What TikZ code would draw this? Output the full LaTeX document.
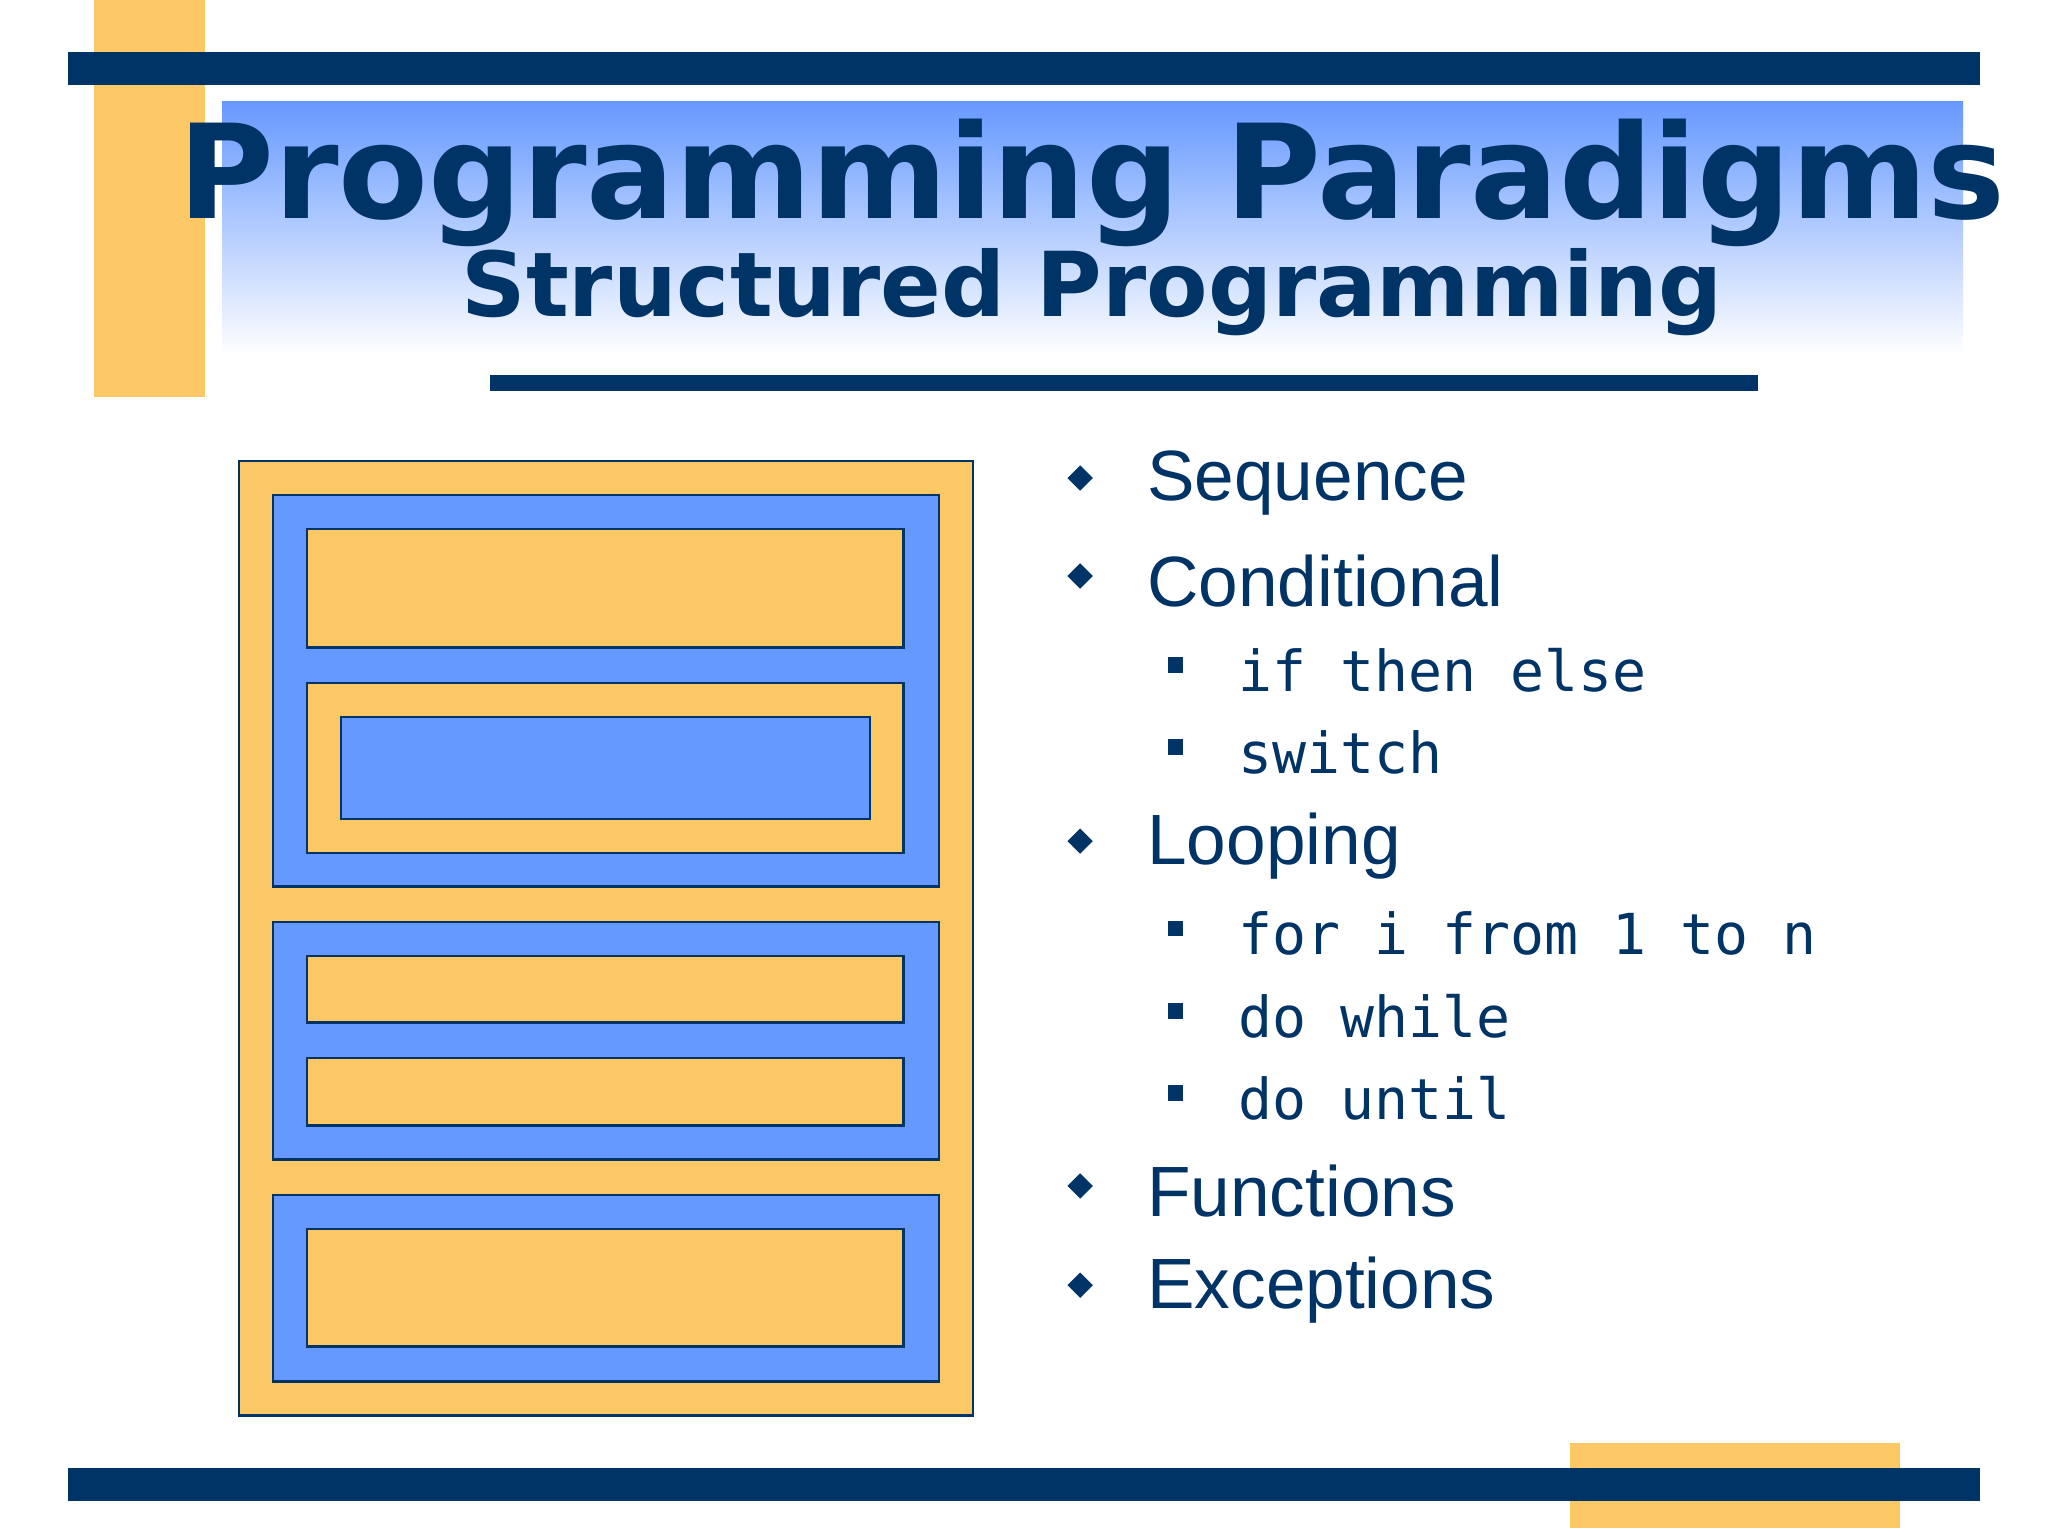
\documentclass[tikz,border=0pt]{standalone}
\usetikzlibrary{shapes.geometric}
\usepackage{fontspec}
\setmainfont{Liberation Sans}
\newfontfamily\titlefont{DejaVu Sans}
\newfontfamily\codefont{DejaVu Sans Mono}
\definecolor{navy}{HTML}{003366}
\definecolor{gold}{HTML}{FCC865}
\definecolor{sky}{HTML}{6699FF}
\begin{document}
\begin{tikzpicture}[x=0.01cm,y=-0.01cm,
  yb/.style={fill=gold,draw=navy,line width=0.6pt},
  bb/.style={fill=sky,draw=navy,line width=0.6pt},
  item/.style={anchor=west,text=navy,font=\fontsize{15.5}{18}\selectfont},
  code/.style={anchor=west,text=navy,font=\codefont\fontsize{12.3}{15}\selectfont},
  dia/.style={diamond,fill=navy,inner sep=0pt,minimum size=0.2cm},
  sq/.style={rectangle,fill=navy,inner sep=0pt,minimum size=0.12cm}]
\useasboundingbox[fill=white] (0,0) rectangle (1568,1176);
\fill[gold] (72,0) rectangle (157,304);
\fill[navy] (52,40) rectangle (1516,65);
\shade[top color=sky,bottom color=white] (170,78) rectangle (1503,272);
\node[text=navy,font=\titlefont\bfseries\fontsize{28.5}{30}\selectfont] (t) at (836,140) {Programming Paradigms};
\node[text=navy,font=\titlefont\bfseries\fontsize{19.5}{22}\selectfont] (st) at (836,224) {Structured Programming};
\fill[navy] (375,287) rectangle (1346,299);
\draw[yb] (183,353) rectangle (745,1084);
\draw[bb] (209,379) rectangle (719,679);
\draw[yb] (235,405) rectangle (692,496);
\draw[yb] (235,523) rectangle (692,653);
\draw[bb] (261,549) rectangle (666,627);
\draw[bb] (209,706) rectangle (719,888);
\draw[yb] (235,732) rectangle (692,783);
\draw[yb] (235,810) rectangle (692,862);
\draw[bb] (209,915) rectangle (719,1058);
\draw[yb] (235,941) rectangle (692,1031);
\foreach \y/\t [count=\i] in {370/Sequence,445/Conditional,648/Looping,912/Functions,988/Exceptions}{
  \node[dia] (d\i) at (827,\y-4) {};
  \node[item] (i\i) at (866,\y) {\t};}
\foreach \y/\t [count=\i] in {513/if then else,576/switch,715/for i from 1 to n,778/do while,841/do until}{
  \node[sq] (s\i) at (900,\y-4) {};
  \node[code] (c\i) at (936,\y) {\t};}
\fill[gold] (1202,1105) rectangle (1455,1170);
\fill[navy] (52,1124) rectangle (1516,1149);
\end{tikzpicture}
\end{document}
